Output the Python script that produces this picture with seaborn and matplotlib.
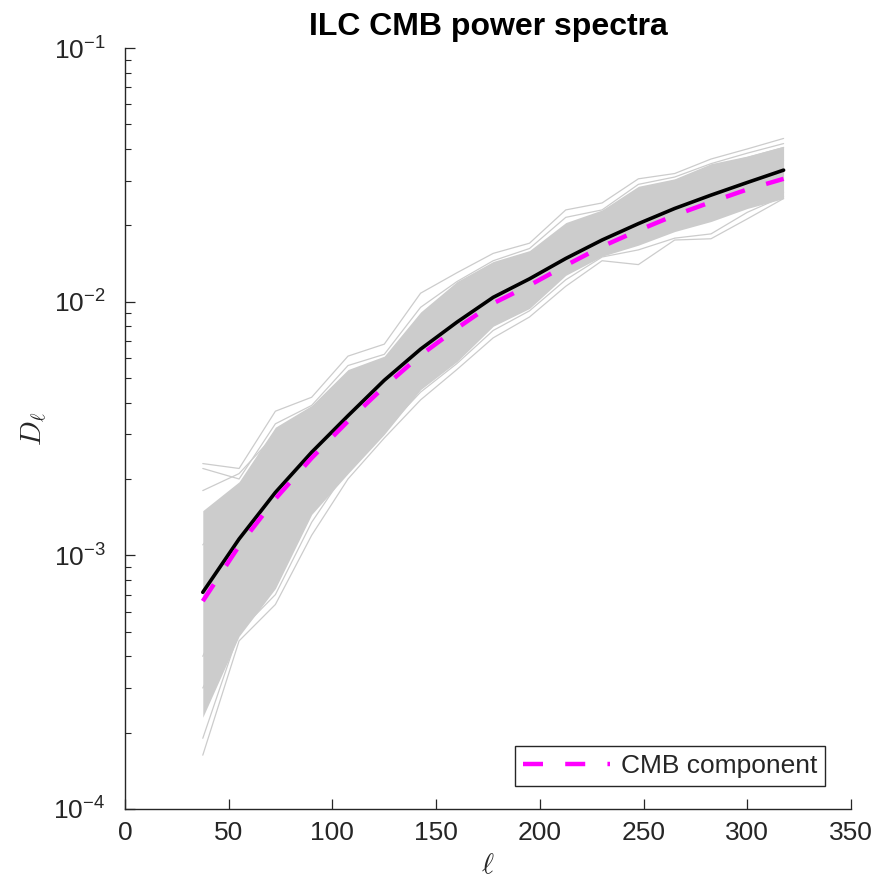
import numpy as np
import pandas as pd
import matplotlib
matplotlib.use("Agg")
import matplotlib.pyplot as plt
import seaborn as sns

# ---------------- data ----------------
ell = [37.5, 55, 72.5, 90, 107.5, 125, 142.5, 160, 177.5, 195,
       212.5, 230, 247.5, 265, 282.5, 300, 317.5]

ilc_mean = [7.15e-4, 1.16e-3, 1.77e-3, 2.55e-3, 3.55e-3, 4.9e-3, 6.5e-3, 8.3e-3,
            1.04e-2, 1.23e-2, 1.48e-2, 1.75e-2, 2.03e-2, 2.33e-2, 2.63e-2,
            2.95e-2, 3.30e-2]

cmb_component = [6.6e-4, 1.09e-3, 1.67e-3, 2.42e-3, 3.38e-3, 4.62e-3, 6.15e-3,
                 7.85e-3, 9.85e-3, 1.16e-2, 1.39e-2, 1.65e-2, 1.91e-2, 2.19e-2,
                 2.47e-2, 2.77e-2, 3.05e-2]

# dense part of the gray band of realisations
band_hi = [1.5e-3, 1.95e-3, 3.2e-3, 3.9e-3, 5.4e-3, 6.1e-3, 9.1e-3, 1.2e-2,
           1.44e-2, 1.59e-2, 2.05e-2, 2.3e-2, 2.85e-2, 3.05e-2, 3.5e-2,
           3.75e-2, 4.1e-2]
band_lo = [2.3e-4, 4.8e-4, 7.4e-4, 1.45e-3, 2.1e-3, 3.0e-3, 4.5e-3, 5.8e-3,
           8.0e-3, 9.4e-3, 1.27e-2, 1.51e-2, 1.67e-2, 1.89e-2, 2.07e-2,
           2.33e-2, 2.55e-2]

# individual realisations visible at the edges of the band
real_1 = [2.3e-3, 2.2e-3, 3.7e-3, 4.2e-3, 6.1e-3, 6.8e-3, 1.08e-2, 1.3e-2,
          1.55e-2, 1.7e-2, 2.3e-2, 2.45e-2, 3.05e-2, 3.2e-2, 3.65e-2, 4.0e-2, 4.4e-2]
real_2 = [1.63e-4, 4.6e-4, 6.4e-4, 1.2e-3, 2.0e-3, 2.9e-3, 4.1e-3, 5.4e-3,
          7.2e-3, 8.7e-3, 1.15e-2, 1.45e-2, 1.4e-2, 1.75e-2, 1.77e-2, 2.12e-2, 2.55e-2]
real_3 = [2.2e-3, 2.0e-3, 3.3e-3, 3.9e-3, 5.6e-3, 6.2e-3, 9.5e-3, 1.2e-2,
          1.45e-2, 1.62e-2, 2.15e-2, 2.3e-2, 2.9e-2, 3.1e-2, 3.5e-2, 3.85e-2, 4.2e-2]
real_4 = [1.9e-4, 5.0e-4, 7.0e-4, 1.35e-3, 2.2e-3, 3.1e-3, 4.4e-3, 5.7e-3,
          7.7e-3, 9.2e-3, 1.22e-2, 1.5e-2, 1.6e-2, 1.78e-2, 1.85e-2, 2.25e-2, 2.6e-2]
real_5 = [1.1e-3, 1.6e-3, 2.4e-3, 3.0e-3, 4.5e-3, 5.3e-3, 7.8e-3, 9.5e-3,
          1.2e-2, 1.4e-2, 1.7e-2, 2.0e-2, 2.35e-2, 2.6e-2, 2.95e-2, 3.3e-2, 3.6e-2]
real_6 = [4.0e-4, 8.0e-4, 1.2e-3, 2.0e-3, 2.8e-3, 4.2e-3, 5.5e-3, 7.2e-3,
          9.0e-3, 1.1e-2, 1.3e-2, 1.6e-2, 1.8e-2, 2.1e-2, 2.4e-2, 2.7e-2, 3.0e-2]
real_7 = [1.8e-3, 2.1e-3, 3.0e-3, 3.6e-3, 5.0e-3, 5.9e-3, 8.5e-3, 1.15e-2,
          1.4e-2, 1.55e-2, 1.95e-2, 2.25e-2, 2.75e-2, 3.0e-2, 3.4e-2, 3.7e-2, 4.05e-2]
real_8 = [3.0e-4, 5.5e-4, 8.5e-4, 1.55e-3, 2.3e-3, 3.3e-3, 4.7e-3, 6.2e-3,
          8.3e-3, 9.8e-3, 1.3e-2, 1.55e-2, 1.72e-2, 1.95e-2, 2.15e-2, 2.4e-2, 2.7e-2]
realisations = [real_1, real_2, real_3, real_4, real_5, real_6, real_7, real_8]

x_ticks = [0, 50, 100, 150, 200, 250, 300, 350]

title = "ILC CMB power spectra"
legend_label = "CMB component"

# ---------------- style ----------------
sns.set_style("ticks")
plt.rcParams["font.family"] = ["Liberation Sans", "DejaVu Sans"]
plt.rcParams["mathtext.fontset"] = "cm"

gray = "#cccccc"
axcol = "#262626"

fig = plt.figure(figsize=(8.8, 8.84), dpi=100)
ax = fig.add_axes([125 / 880, 75 / 884, 726 / 880, 761 / 884])

# gray band
ax.fill_between(ell, band_lo, band_hi, color=gray, linewidth=0, zorder=1)

long = pd.DataFrame(
    [(i, l, v) for i, r in enumerate(realisations) for l, v in zip(ell, r)],
    columns=["run", "ell", "D"],
)
sns.lineplot(data=long, x="ell", y="D", units="run", estimator=None,
             color=gray, linewidth=0.9, ax=ax, zorder=2, legend=False)

sns.lineplot(x=ell, y=ilc_mean, color="black", linewidth=2.6, ax=ax, zorder=3)
sns.lineplot(x=ell, y=cmb_component, color="#ff00ff", linewidth=3.2, ax=ax,
             zorder=4, label=legend_label, dashes=False)
cmb_line = ax.lines[-1]
cmb_line.set_dashes((4.5, 5.0))
cmb_line.set_dash_capstyle("butt")

ax.set_yscale("log")
ax.set_xlim(0, 350)
ax.set_ylim(1e-4, 1e-1)
ax.set_xticks(x_ticks)

sns.despine(ax=ax)
for s in ["left", "bottom"]:
    ax.spines[s].set_color(axcol)
    ax.spines[s].set_linewidth(1.0)

ax.tick_params(axis="both", which="major", direction="in", length=7, width=0.9,
               color=axcol, labelsize=19, labelcolor=axcol)
ax.tick_params(axis="x", which="major", pad=9)
ax.tick_params(axis="y", which="major", pad=14)
ax.tick_params(axis="both", which="minor", direction="in", length=4, width=0.8,
               color=axcol)

ax.set_title(title, fontsize=23, fontweight="bold", pad=9, color="black")
ax.set_xlabel(r"$\ell$", fontsize=21, labelpad=4)
ax.set_ylabel(r"$D_\ell$", fontsize=21, labelpad=3)

leg = ax.legend(loc="lower right", bbox_to_anchor=(700 / 726, 23 / 761),
                borderaxespad=0, fontsize=19, handlelength=3.3,
                fancybox=False, frameon=True, borderpad=0.3,
                handletextpad=0.4)
leg.get_frame().set_edgecolor(axcol)
leg.get_frame().set_linewidth(1.0)
leg.get_frame().set_alpha(1)

fig.savefig("out.png", dpi=100)
